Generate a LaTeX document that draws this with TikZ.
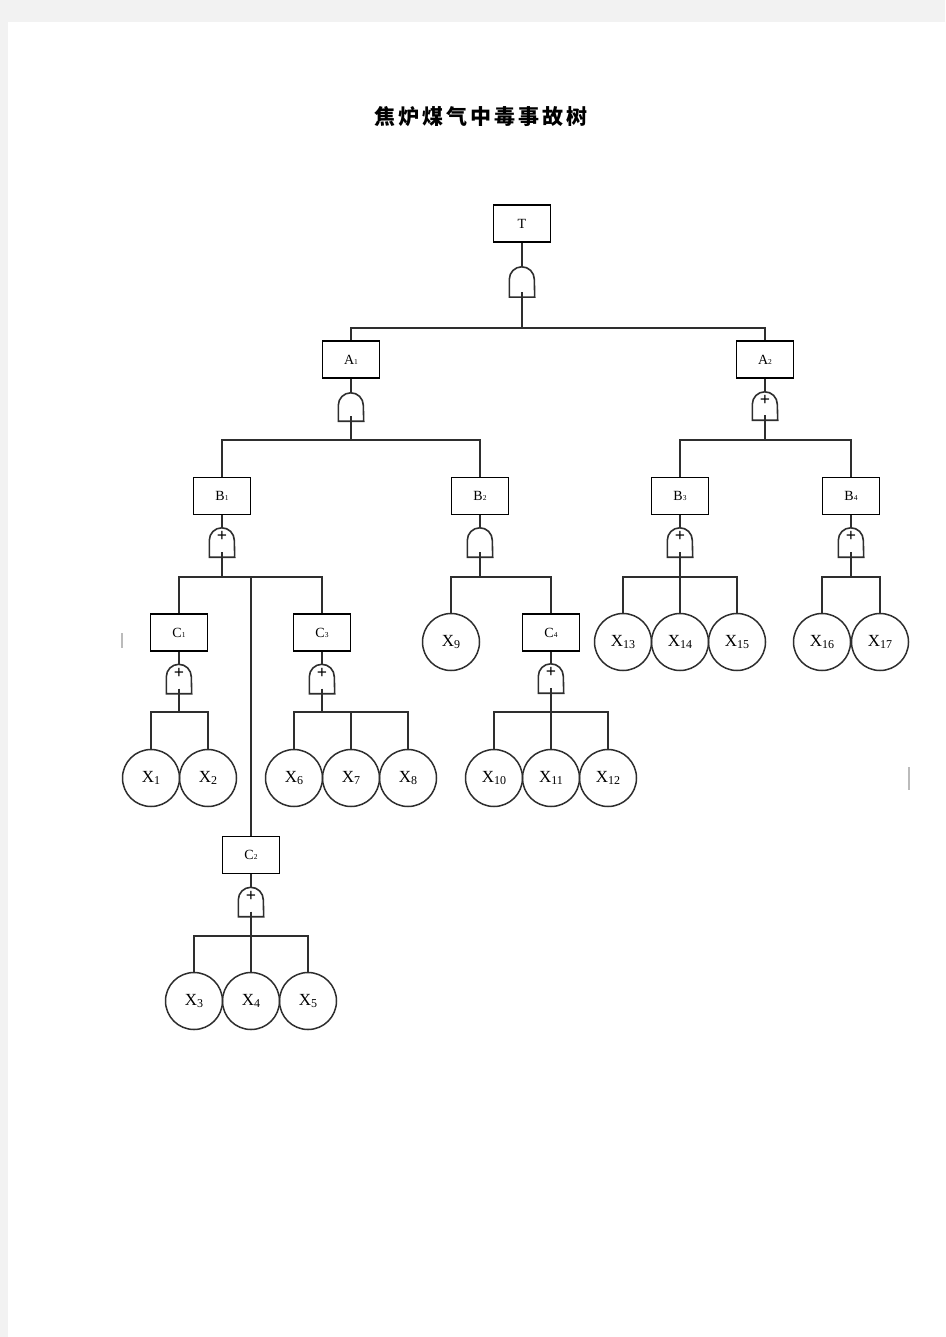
\documentclass[tikz,border=0pt]{standalone}
\usepackage{fontspec}
\setmainfont{Liberation Serif}
\newfontfamily\cjk{Noto Sans CJK SC}
\usetikzlibrary{calc}
\definecolor{pagegray}{HTML}{F2F2F2}
\definecolor{ink}{HTML}{2E2E2E}
\definecolor{stray}{HTML}{BBBBBB}
\tikzset{
  evbox/.style={draw=black, line width=1.6pt, minimum width=57pt, minimum height=37pt, inner sep=0pt, font=\fontsize{14}{14}\selectfont},
  basic/.style={circle, draw=ink, line width=1.5pt, minimum size=57pt, inner sep=0pt, font=\fontsize{17}{17}\selectfont},
  gatenode/.style={minimum width=25pt, minimum height=29pt, inner sep=0pt},
  link/.style={draw=ink, line width=1.6pt},
  plussign/.style={font=\bfseries\fontsize{18}{18}\selectfont, inner sep=0pt, text=black},
}
\newcommand\lab[2]{#1{\fontsize{7.5}{7.5}\selectfont #2}}
\newcommand\xlab[1]{X\raisebox{-2.5pt}{\fontsize{12}{12}\selectfont #1}}
\newcommand\gatedraw[1]{\draw[link] (#1.south west) -- ($(#1.north west)+(0,12.5)$) arc[start angle=180,end angle=0,radius=12.5pt] -- (#1.south east) -- cycle;}
\begin{document}
\begin{tikzpicture}[x=1pt,y=-1pt]
\useasboundingbox (0,0) rectangle (945,1337);
\fill[pagegray] (0,0) rectangle (945,1337);
\fill[white] (8,22) rectangle (945,1337);

% title
\node[font=\cjk\bfseries\fontsize{21}{21}\selectfont, inner sep=0pt] (title) at (481,117)
  {焦\kern3pt炉\kern3pt煤\kern3pt气\kern3pt中\kern3pt毒\kern3pt事\kern3pt故\kern3pt树};

% event boxes
\node[evbox] (T)  at (522,223.5) {T};
\node[evbox] (A1) at (351,359.5) {\lab{A}{1}};
\node[evbox] (A2) at (765,359.5) {\lab{A}{2}};
\node[evbox] (B1) at (222,496)   {\lab{B}{1}};
\node[evbox] (B2) at (480,496)   {\lab{B}{2}};
\node[evbox] (B3) at (680,496)   {\lab{B}{3}};
\node[evbox] (B4) at (851,496)   {\lab{B}{4}};
\node[evbox] (C1) at (179,632.5) {\lab{C}{1}};
\node[evbox] (C3) at (322,632.5) {\lab{C}{3}};
\node[evbox] (C4) at (551,632.5) {\lab{C}{4}};
\node[evbox] (C2) at (251,855)   {\lab{C}{2}};

% gates
\node[gatenode, minimum height=30pt] (gT) at (522,282) {};
\node[gatenode, minimum height=28pt] (gA1) at (351,407) {};
\node[gatenode, minimum height=28pt] (gA2) at (765,406) {};
\node[gatenode] (gB1) at (222,542.5) {};
\node[gatenode] (gB2) at (480,542.5) {};
\node[gatenode] (gB3) at (680,542.5) {};
\node[gatenode] (gB4) at (851,542.5) {};
\node[gatenode] (gC1) at (179,679) {};
\node[gatenode] (gC3) at (322,679) {};
\node[gatenode] (gC4) at (551,678.5) {};
\node[gatenode] (gC2) at (251,902) {};
\foreach \g in {gT,gA1,gA2,gB1,gB2,gB3,gB4,gC1,gC3,gC4,gC2} {\gatedraw{\g}}

% OR signs
\node[plussign] (pA2) at ($(gA2.north)+(0,9)$) {+};
\node[plussign] (pB1) at ($(gB1.north)+(0,9)$) {+};
\node[plussign] (pB3) at ($(gB3.north)+(0,9)$) {+};
\node[plussign] (pB4) at ($(gB4.north)+(0,9)$) {+};
\node[plussign] (pC1) at ($(gC1.north)+(0,9)$) {+};
\node[plussign] (pC3) at ($(gC3.north)+(0,9)$) {+};
\node[plussign] (pC4) at ($(gC4.north)+(0,9)$) {+};
\node[plussign] (pC2) at ($(gC2.north)+(0,9)$) {+};

% basic events
\node[basic] (X1)  at (151,778) {\xlab{1}};
\node[basic] (X2)  at (208,778) {\xlab{2}};
\node[basic] (X6)  at (294,778) {\xlab{6}};
\node[basic] (X7)  at (351,778) {\xlab{7}};
\node[basic] (X8)  at (408,778) {\xlab{8}};
\node[basic] (X10) at (494,778) {\xlab{10}};
\node[basic] (X11) at (551,778) {\xlab{11}};
\node[basic] (X12) at (608,778) {\xlab{12}};
\node[basic] (X3)  at (194,1001) {\xlab{3}};
\node[basic] (X4)  at (251,1001) {\xlab{4}};
\node[basic] (X5)  at (308,1001) {\xlab{5}};
\node[basic] (X9)  at (451,642) {\xlab{9}};
\node[basic] (X13) at (623,642) {\xlab{13}};
\node[basic] (X14) at (680,642) {\xlab{14}};
\node[basic] (X15) at (737,642) {\xlab{15}};
\node[basic] (X16) at (822,642) {\xlab{16}};
\node[basic] (X17) at (880,642) {\xlab{17}};

% bus points
\coordinate (bT)  at (522,328);
\coordinate (bA1) at (351,440);
\coordinate (bA2) at (765,440);
\coordinate (bB1) at (222,577);
\coordinate (bB2) at (480,577);
\coordinate (bB3) at (680,577);
\coordinate (bB4) at (851,577);
\coordinate (bC1) at (179,712);
\coordinate (bC3) at (322,712);
\coordinate (bC4) at (551,712);
\coordinate (bC2) at (251,936);

% event to gate
\foreach \e in {T,A1,A2,B1,B2,B3,B4,C1,C3,C4,C2} {\draw[link] (\e.south) -- (g\e.north);}
% gate to bus
\foreach \e in {T,A1,A2,B1,B2,B3,B4,C1,C3,C4,C2} {\draw[link] ([yshift=5pt]g\e.south) -- (b\e);}

% children
\draw[link] (A1.north) |- (bT);
\draw[link] (A2.north) |- (bT);
\draw[link] (B1.north) |- (bA1);
\draw[link] (B2.north) |- (bA1);
\draw[link] (B3.north) |- (bA2);
\draw[link] (B4.north) |- (bA2);
\draw[link] (C1.north) |- (bB1);
\draw[link] (C2.north) |- (bB1);
\draw[link] (C3.north) |- (bB1);
\draw[link] (X9.north) |- (bB2);
\draw[link] (C4.north) |- (bB2);
\draw[link] (X13.north) |- (bB3);
\draw[link] (X14.north) |- (bB3);
\draw[link] (X15.north) |- (bB3);
\draw[link] (X16.north) |- (bB4);
\draw[link] (X17.north) |- (bB4);
\draw[link] (X1.north) |- (bC1);
\draw[link] (X2.north) |- (bC1);
\draw[link] (X6.north) |- (bC3);
\draw[link] (X7.north) |- (bC3);
\draw[link] (X8.north) |- (bC3);
\draw[link] (X10.north) |- (bC4);
\draw[link] (X11.north) |- (bC4);
\draw[link] (X12.north) |- (bC4);
\draw[link] (X3.north) |- (bC2);
\draw[link] (X4.north) |- (bC2);
\draw[link] (X5.north) |- (bC2);

% stray marks of the scan
\draw[stray, line width=1.5pt] (122,633) -- (122,648);
\draw[stray, line width=1.5pt] (909,767) -- (909,790);
\end{tikzpicture}
\end{document}
